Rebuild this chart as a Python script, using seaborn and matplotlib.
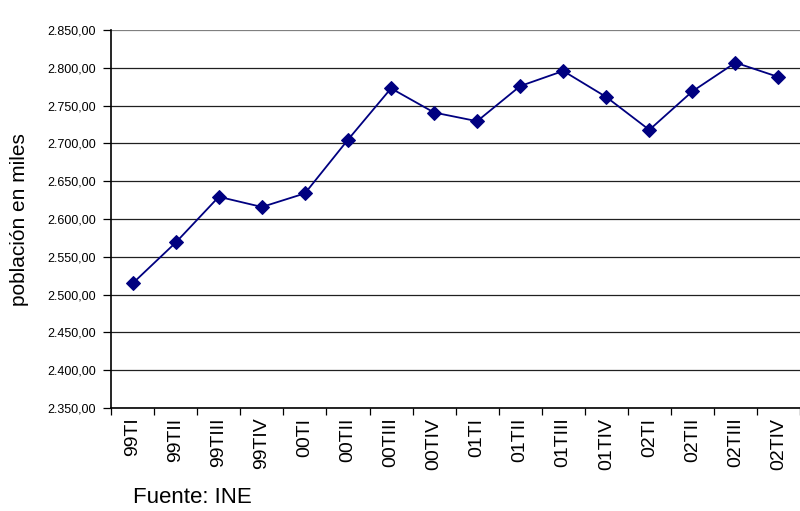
import matplotlib
matplotlib.use("Agg")
import matplotlib.pyplot as plt
import seaborn as sns
import pandas as pd
import numpy as np
from matplotlib.ticker import FuncFormatter, FixedLocator

trimestres = ["99TI", "99TII", "99TIII", "99TIV", "00TI", "00TII", "00TIII", "00TIV",
              "01TI", "01TII", "01TIII", "01TIV", "02TI", "02TII", "02TIII", "02TIV"]
poblacion = [2515, 2569, 2629.5, 2616, 2634, 2705, 2773, 2741,
             2729.5, 2776, 2796, 2761.5, 2718, 2769, 2807, 2788]
y_ticks = [2350, 2400, 2450, 2500, 2550, 2600, 2650, 2700, 2750, 2800, 2850]

sns.set_theme(style="white")
plt.rcParams["font.family"] = ["Liberation Sans", "DejaVu Sans"]
plt.rcParams["text.color"] = "black"
plt.rcParams["axes.labelcolor"] = "black"
plt.rcParams["xtick.color"] = "black"
plt.rcParams["ytick.color"] = "black"

df = pd.DataFrame({"pos": np.arange(len(trimestres)), "poblacion": poblacion})

fig = plt.figure(figsize=(8, 5.11), dpi=100)
ax = fig.add_axes([0.139, 0.2016, 0.861, 0.7394])

for yv in y_ticks:
    ax.axhline(yv, color="#808080" if yv == 2850 else "#202020", linewidth=0.9, zorder=1)

sns.lineplot(data=df, x="pos", y="poblacion", ax=ax, color="#000080", linewidth=1.3,
             marker="D", markersize=7, markeredgecolor="#000080", zorder=3)

ax.set_xlim(-0.5, len(trimestres) - 0.5)
ax.set_ylim(2350, 2850)
ax.set_yticks(y_ticks)
ax.yaxis.set_major_formatter(FuncFormatter(
    lambda v, p: f"{v:,.2f}".replace(",", "X").replace(".", ",").replace("X", ".")))
ax.set_xticks(range(len(trimestres)))
ax.set_xticklabels(trimestres, rotation=90, fontsize=14)
ax.xaxis.set_minor_locator(FixedLocator(np.arange(-0.5, len(trimestres), 1)))
ax.tick_params(axis="x", which="major", length=0, pad=7)
ax.tick_params(axis="x", which="minor", length=5, width=0.9, color="black", bottom=True)
ax.tick_params(axis="y", which="major", length=6, width=0.9, color="black", left=True,
               labelsize=9, pad=5)

for s in ["top", "right"]:
    ax.spines[s].set_visible(False)
for s in ["left", "bottom"]:
    ax.spines[s].set_color("black")
    ax.spines[s].set_linewidth(1.2)

ax.set_xlabel("")
ax.set_ylabel("población en miles", fontsize=15)
ax.yaxis.set_label_coords(-0.12, 0.5)
fig.text(0.166, 0.016, "Fuente: INE", fontsize=16, va="baseline")

fig.savefig("out.png", dpi=100)
